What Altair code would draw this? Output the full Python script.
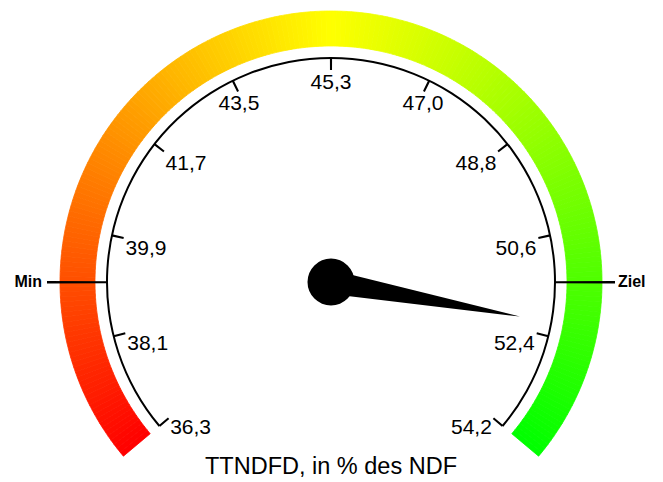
import math
import numpy as np
import pandas as pd
import altair as alt

# ---- data ----
scale_min = 36.3
scale_max = 54.2
tick_values = [36.3, 38.09, 39.88, 41.67, 43.46, 45.25, 47.04, 48.83, 50.62, 52.41, 54.2]
tick_labels = ["36,3", "38,1", "39,9", "41,7", "43,5", "45,3", "47,0", "48,8", "50,6", "52,4", "54,2"]
marker_names = ["Min", "Ziel"]
marker_values = [39.05, 51.45]
needle_value = [52.16]
title_text = ["TTNDFD, in % des NDF"]
band_colors = ["#ff0000", "#ffff00", "#00ff00"]

# ---- layout / style ----
W, H = 647, 466
CX, CY = 323, 274
FONT = "Liberation Sans"
half = math.radians(130)
mid = (scale_min + scale_max) / 2

theta_scale = alt.Scale(domain=[scale_min, scale_max],
                        range=[2 * math.pi - half, 2 * math.pi + half],
                        nice=False, zero=False)
angle_scale = alt.Scale(domain=[scale_min, scale_max], range=[230, 490],
                        nice=False, zero=False)
col_scale = alt.Scale(domain=[scale_min, mid, scale_max], range=band_colors,
                      interpolate="rgb")

center = dict(x=alt.value(CX), y=alt.value(CY))

# colour band built from many thin segments
edges = np.linspace(scale_min, scale_max, 241)
band_df = pd.DataFrame({"a": edges[:-1], "b": edges[1:]})
band_df["m"] = (band_df["a"] + band_df["b"]) / 2

band = alt.Chart(band_df).mark_arc(radius=271, radius2=236, strokeWidth=0.8).encode(
    theta=alt.Theta("a:Q", scale=theta_scale, stack=None),
    theta2="b:Q",
    color=alt.Color("m:Q", scale=col_scale, legend=None),
    stroke=alt.Stroke("m:Q", scale=col_scale, legend=None),
    **center,
)

arc_df = pd.DataFrame({"a": [scale_min], "b": [scale_max]})
black_arc = alt.Chart(arc_df).mark_arc(radius=225, radius2=223, color="black").encode(
    theta=alt.Theta("a:Q", scale=theta_scale, stack=None),
    theta2="b:Q",
    **center,
)

tick_df = pd.DataFrame({"v": tick_values, "label": tick_labels})
ticks = alt.Chart(tick_df).transform_calculate(
    t0="datum.v - 0.019", t1="datum.v + 0.019"
).mark_arc(radius=224, radius2=212, color="black").encode(
    theta=alt.Theta("t0:Q", scale=theta_scale, stack=None),
    theta2="t1:Q",
    **center,
)

marker_df = pd.DataFrame({"v": marker_values, "name": marker_names})
marker_lines = alt.Chart(marker_df).transform_calculate(
    t0="datum.v - 0.017", t1="datum.v + 0.017"
).mark_arc(radius=284, radius2=223, color="black").encode(
    theta=alt.Theta("t0:Q", scale=theta_scale, stack=None),
    theta2="t1:Q",
    **center,
)


def tick_text(filt, align):
    return alt.Chart(tick_df).transform_filter(filt).mark_text(
        radius=210, align=align, baseline="top", fontSize=21, font=FONT, color="black"
    ).encode(
        theta=alt.Theta("v:Q", scale=theta_scale, stack=None),
        text="label:N",
        **center,
    )


labels_left = tick_text("datum.v < 43", "left")
labels_mid = tick_text("datum.v >= 43 && datum.v <= 47.5", "center")
labels_right = tick_text("datum.v > 47.5", "right")


def marker_text(name, align, r):
    return alt.Chart(marker_df).transform_filter(f"datum.name == '{name}'").mark_text(
        radius=r, align=align, baseline="middle", fontSize=16, fontWeight="bold",
        font=FONT, color="black"
    ).encode(
        theta=alt.Theta("v:Q", scale=theta_scale, stack=None),
        text="name:N",
        **center,
    )


min_text = marker_text("Min", "right", 289)
ziel_text = marker_text("Ziel", "left", 287)

title = alt.Chart(pd.DataFrame({"t": title_text})).mark_text(
    fontSize=23.5, font=FONT, color="black", align="center", baseline="middle"
).encode(text="t:N", x=alt.value(CX), y=alt.value(459))

needle_df = pd.DataFrame({"v": needle_value})
needle_len = 192
needle = alt.Chart(needle_df).mark_point(
    shape="M -0.0625,0 L 0,-1 L 0.0625,0 Z", filled=True, color="black",
    opacity=1, strokeWidth=0, size=(2 * needle_len) ** 2
).encode(
    angle=alt.Angle("v:Q", scale=angle_scale),
    **center,
)

hub = alt.Chart(needle_df).mark_circle(size=47 ** 2, color="black", opacity=1).encode(**center)

chart = alt.layer(
    band, black_arc, ticks, marker_lines,
    labels_left, labels_mid, labels_right, min_text, ziel_text,
    title, needle, hub,
).properties(width=W, height=H, padding=0).configure_view(strokeWidth=0)

chart.save("out.html", embed_options={"renderer": "svg", "actions": False})
